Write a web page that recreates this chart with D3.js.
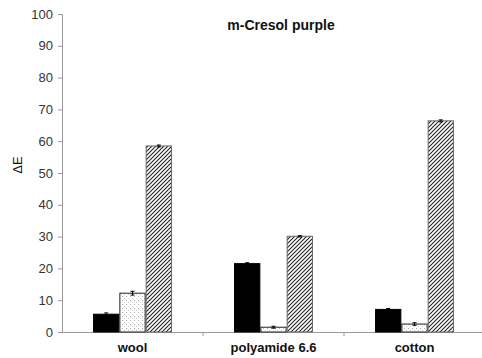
<!DOCTYPE html>
<html><head><meta charset="utf-8">
<script src="https://cdn.jsdelivr.net/npm/d3@7"></script>
<style>body{margin:0;background:#fff}svg{display:block}text{font-family:"Liberation Sans",Arial,sans-serif}</style>
</head><body><svg id="c" width="482" height="358"></svg>
<script>
const categories = ["wool", "polyamide 6.6", "cotton"];
const seriesNames = ["s1", "s2", "s3"];
const values = [
  [5.6, 12.2, 58.5],
  [21.5, 1.5, 30.1],
  [7.1, 2.5, 66.4]
];
const errors = [
  [0.4, 0.6, 0.3],
  [0.3, 0.3, 0.2],
  [0.3, 0.4, 0.3]
];
const yTicks = [0,10,20,30,40,50,60,70,80,90,100];
const title = "m-Cresol purple";
const yLabel = "ΔE";

const svg = d3.select("#c");
const defs = svg.append("defs");
const dots = defs.append("pattern").attr("id","dots").attr("patternUnits","userSpaceOnUse").attr("width",4).attr("height",4);
dots.append("rect").attr("width",4).attr("height",4).attr("fill","#fff");
dots.append("rect").attr("x",0).attr("y",0).attr("width",1).attr("height",1).attr("fill","#aaa");
dots.append("rect").attr("x",2).attr("y",2).attr("width",1).attr("height",1).attr("fill","#ccc");
const hatch = defs.append("pattern").attr("id","hatch").attr("patternUnits","userSpaceOnUse").attr("width",4).attr("height",4);
hatch.append("rect").attr("width",4).attr("height",4).attr("fill","#fff");
hatch.append("path").attr("d","M-1,1 l2,-2 M0,4 l4,-4 M3,5 l2,-2").attr("stroke","#222").attr("stroke-width",1.1);

const fills = ["#000","url(#dots)","url(#hatch)"];
const strokes = ["#000","#222","#666"];

const x0 = 62, x1 = 485, yTop = 14, yBot = 332;
const x = d3.scaleBand().domain(categories).range([x0, x1]);
const xs = d3.scaleBand().domain(seriesNames).range([0, x.bandwidth()]).paddingInner(0).paddingOuter(1.18);
const y = d3.scaleLinear().domain([0,100]).range([yBot, yTop]);

// y axis
const ya = svg.append("g").attr("transform",`translate(${x0},0)`)
  .call(d3.axisLeft(y).tickValues(yTicks).tickSize(4).tickPadding(5));
ya.select(".domain").attr("stroke","#999");
ya.selectAll(".tick line").attr("stroke","#999");
ya.selectAll(".tick text").attr("font-size",13).attr("fill","#333");

// x axis line and boundary ticks
svg.append("line").attr("x1",x0).attr("x2",482).attr("y1",yBot+0.5).attr("y2",yBot+0.5).attr("stroke","#999");
categories.slice(1).forEach(c=>{
  svg.append("line").attr("x1",x(c)).attr("x2",x(c)).attr("y1",yBot).attr("y2",yBot+4).attr("stroke","#999");
});

categories.forEach((c,i)=>{
  const g = svg.append("g").attr("transform",`translate(${x(c)},0)`);
  seriesNames.forEach((s,j)=>{
    const v = values[i][j];
    g.append("rect").attr("x",xs(s)+0.5).attr("y",y(v)).attr("width",xs.bandwidth()-1).attr("height",yBot-y(v))
      .attr("fill",fills[j]).attr("stroke",strokes[j]).attr("stroke-width",1);
    const cx = xs(s)+xs.bandwidth()/2, e = errors[i][j];
    g.append("path").attr("d",`M${cx},${y(v+e)}V${y(v-e)}M${cx-2},${y(v+e)}h4M${cx-2},${y(v-e)}h4`)
      .attr("stroke","#000").attr("stroke-width",1).attr("fill","none");
  });
  svg.append("text").attr("x",x(c)+x.bandwidth()/2).attr("y",352).attr("text-anchor","middle")
    .attr("font-size",13).attr("font-weight","bold").attr("fill","#111").text(c);
});

svg.append("text").attr("x",281).attr("y",30).attr("text-anchor","middle").attr("font-size",14).attr("font-weight","bold").attr("fill","#111").text(title);
svg.append("text").attr("transform","translate(22,165) rotate(-90)").attr("text-anchor","middle").attr("font-size",13).attr("fill","#111").text(yLabel);
</script></body></html>
